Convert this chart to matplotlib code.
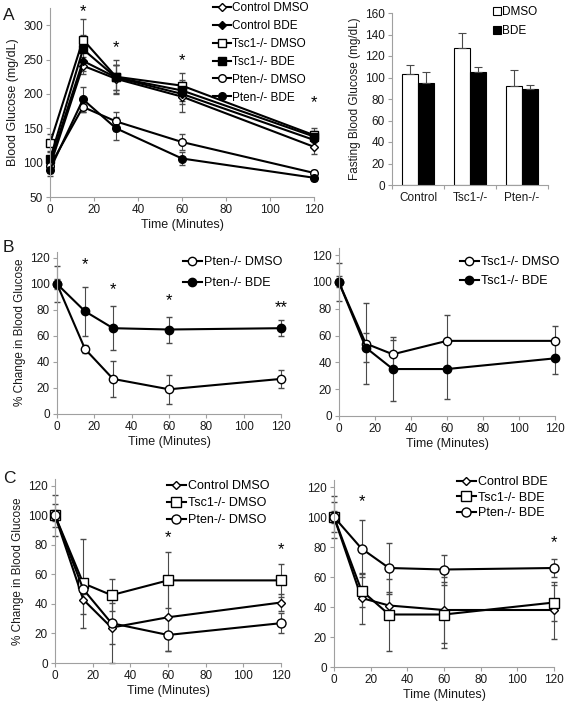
import matplotlib
matplotlib.use('Agg')
import matplotlib.pyplot as plt
import numpy as np

plt.rcParams['font.family'] = ['Liberation Sans', 'DejaVu Sans']

# ---- data ----
time = [0, 15, 30, 60, 120]

# panel A: blood glucose (mg/dL)
ctrl_dmso_a = [95, 241, 222, 196, 123]
ctrl_dmso_a_err = [10, 12, 20, 22, 11]
ctrl_bde_a = [100, 248, 224, 200, 133]
ctrl_bde_a_err = [10, 15, 18, 15, 10]
tsc_dmso_a = [128, 279, 225, 212, 140]
tsc_dmso_a_err = [13, 30, 25, 18, 10]
tsc_bde_a = [105, 265, 224, 205, 138]
tsc_bde_a_err = [12, 20, 18, 15, 8]
pten_dmso_a = [95, 181, 160, 130, 85]
pten_dmso_a_err = [8, 8, 14, 12, 5]
pten_bde_a = [90, 192, 150, 106, 78]
pten_bde_a_err = [10, 18, 17, 10, 5]
stars_a_x = [15, 30, 60, 120]
stars_a_y = [320, 268, 249, 187]

# fasting glucose bars
groups = ['Control', 'Tsc1-/-', 'Pten-/-']
fast_dmso = [103, 127, 92]
fast_dmso_err = [9, 14, 15]
fast_bde = [95, 105, 89]
fast_bde_err = [10, 5, 4]

# panel B / C: % change
pten_dmso = [100, 50, 27, 19, 27]
pten_dmso_err = [4, 3, 14, 11, 7]
pten_bde = [100, 79, 66, 65, 66]
pten_bde_err = [14, 19, 17, 10, 6]
tsc_dmso = [100, 54, 46, 56, 56]
tsc_dmso_err = [14, 30, 11, 19, 11]
tsc_bde = [100, 51, 35, 35, 43]
tsc_bde_err = [4, 11, 24, 22, 12]
ctrl_dmso = [100, 43, 24, 31, 41]
ctrl_dmso_err = [8, 10, 24, 23, 6]
ctrl_bde = [100, 46, 41, 38, 38]
ctrl_bde_err = [10, 17, 9, 22, 19]

stars_b_x = [15, 30, 60, 120]
stars_b_y = [115, 96, 87, 82]
stars_b_txt = ['*', '*', '*', '**']
stars_cl_x = [60, 120]
stars_cl_y = [85, 77]
stars_cr_x = [15, 120]
stars_cr_y = [110, 83]

SPINE = '#a0a0a0'
TXT = '#1a1a1a'
FS = 8.5


def style_axis(ax):
    for s in ['top', 'right']:
        ax.spines[s].set_visible(False)
    for s in ['left', 'bottom']:
        ax.spines[s].set_color(SPINE)
        ax.spines[s].set_linewidth(0.8)
    ax.tick_params(direction='out', length=3, width=0.8, color=SPINE,
                   labelsize=FS, labelcolor=TXT, pad=2)


def series(ax, y, err, marker, face, ms):
    c = ax.errorbar(time, y, yerr=err, color='black', marker=marker,
                    mfc=face, mec='black', mew=1.0, ms=ms, lw=1.5,
                    ecolor='#4a4a4a', elinewidth=0.8, capsize=2.5,
                    capthick=0.8)
    for a in c.get_children():
        a.set_clip_on(False)
    return c.lines[0]


def time_axis(ax, ylim, yticks):
    style_axis(ax)
    ax.set_xlim(0, 120)
    ax.set_xticks(range(0, 121, 20))
    ax.set_ylim(*ylim)
    ax.set_yticks(yticks)
    ax.set_xlabel('Time (Minutes)', fontsize=9, color=TXT, labelpad=2)


def add_legend(ax, handles, labels, x, y, spacing, fs):
    fig = ax.figure
    ax.legend(handles, labels, loc='upper left',
              bbox_to_anchor=(x / 567, 1 - y / 707),
              bbox_transform=fig.transFigure, frameon=False,
              fontsize=fs, handlelength=1.5, handletextpad=0.15,
              labelspacing=spacing, borderpad=0, borderaxespad=0)


fig = plt.figure(figsize=(5.67, 7.07), dpi=100)

# ---- A left ----
ax = fig.add_axes([50 / 567, 1 - 197 / 707, 264 / 567, 189 / 707])
time_axis(ax, (50, 325), range(50, 301, 50))
h = [series(ax, ctrl_dmso_a, ctrl_dmso_a_err, 'D', 'white', 4),
     series(ax, ctrl_bde_a, ctrl_bde_a_err, 'D', 'black', 4),
     series(ax, tsc_dmso_a, tsc_dmso_a_err, 's', 'white', 5.5),
     series(ax, tsc_bde_a, tsc_bde_a_err, 's', 'black', 5.5),
     series(ax, pten_dmso_a, pten_dmso_a_err, 'o', 'white', 5.5),
     series(ax, pten_bde_a, pten_bde_a_err, 'o', 'black', 5.5)]
ax.set_ylabel('Blood Glucose (mg/dL)', fontsize=9, color=TXT, labelpad=3)
for sx, sy in zip(stars_a_x, stars_a_y):
    ax.text(sx, sy, '*', fontsize=12, ha='center', va='center', clip_on=False)
add_legend(ax, h, ['Control DMSO', 'Control BDE', 'Tsc1-/- DMSO',
                   'Tsc1-/- BDE', 'Pten-/- DMSO', 'Pten-/- BDE'],
           213, 2, 0.5, 8.5)
fig.text(3 / 567, 1 - 20 / 707, 'A', fontsize=12.5, color=TXT)

# ---- A right (bars) ----
ax = fig.add_axes([392 / 567, 1 - 185 / 707, 156 / 567, 172 / 707])
style_axis(ax)
xi = np.arange(len(groups))
ax.bar(xi - 0.15, fast_dmso, 0.3, color='white', edgecolor='black', lw=0.8,
       yerr=[[0] * 3, fast_dmso_err], ecolor='#4a4a4a',
       error_kw=dict(elinewidth=0.8, capsize=2.8, capthick=0.8), label='DMSO')
ax.bar(xi + 0.15, fast_bde, 0.3, color='black', edgecolor='black', lw=0.8,
       yerr=[[0] * 3, fast_bde_err], ecolor='#4a4a4a',
       error_kw=dict(elinewidth=0.8, capsize=2.8, capthick=0.8), label='BDE')
ax.set_xlim(-0.5, 2.5)
ax.set_ylim(0, 160)
ax.set_yticks(range(0, 161, 20))
ax.set_xticks([-0.5, 0.5, 1.5, 2.5])
ax.set_xticklabels([])
ax.set_xticks(xi, minor=True)
ax.set_xticklabels(groups, minor=True)
ax.tick_params(axis='x', which='minor', length=0, labelsize=FS, labelcolor=TXT, pad=5)
ax.set_ylabel('Fasting Blood Glucose (mg/dL)', fontsize=8.5, color=TXT, labelpad=3)
ax.legend(loc='upper left', bbox_to_anchor=(493 / 567, 1 - 6 / 707),
          bbox_transform=fig.transFigure, frameon=False, fontsize=8.5,
          handlelength=0.7, handleheight=0.7, handletextpad=0.1,
          labelspacing=0.6, borderpad=0, borderaxespad=0)

# ---- B left ----
ax = fig.add_axes([57 / 567, 1 - 414 / 707, 224 / 567, 162.5 / 707])
time_axis(ax, (0, 125), range(0, 121, 20))
h = [series(ax, pten_dmso, pten_dmso_err, 'o', 'white', 6),
     series(ax, pten_bde, pten_bde_err, 'o', 'black', 6)]
ax.set_ylabel('% Change in Blood Glucose', fontsize=8.5, color=TXT, labelpad=3)
for sx, sy, st in zip(stars_b_x, stars_b_y, stars_b_txt):
    ax.text(sx, sy, st, fontsize=12, ha='center', va='center', clip_on=False)
add_legend(ax, h, ['Pten-/- DMSO', 'Pten-/- BDE'], 183, 256, 0.75, 9)
fig.text(3 / 567, 1 - 252 / 707, 'B', fontsize=12.5, color=TXT)

# ---- B right ----
ax = fig.add_axes([338.7 / 567, 1 - 416 / 707, 216.5 / 567, 167.7 / 707])
time_axis(ax, (0, 125), range(0, 121, 20))
h = [series(ax, tsc_dmso, tsc_dmso_err, 'o', 'white', 6),
     series(ax, tsc_bde, tsc_bde_err, 'o', 'black', 6)]
add_legend(ax, h, ['Tsc1-/- DMSO', 'Tsc1-/- BDE'], 460, 256, 0.55, 9)

# ---- C left ----
ax = fig.add_axes([55 / 567, 1 - 663 / 707, 226 / 567, 184.4 / 707])
time_axis(ax, (0, 125), range(0, 121, 20))
h = [series(ax, ctrl_dmso, ctrl_dmso_err, 'D', 'white', 4.5),
     series(ax, tsc_dmso, tsc_dmso_err, 's', 'white', 6.5),
     series(ax, pten_dmso, pten_dmso_err, 'o', 'white', 6.5)]
ax.set_ylabel('% Change in Blood Glucose', fontsize=8.5, color=TXT, labelpad=3)
for sx, sy in zip(stars_cl_x, stars_cl_y):
    ax.text(sx, sy, '*', fontsize=12, ha='center', va='center', clip_on=False)
add_legend(ax, h, ['Control DMSO', 'Tsc1-/- DMSO', 'Pten-/- DMSO'],
           167, 480, 0.4, 9)
fig.text(3 / 567, 1 - 483 / 707, 'C', fontsize=12.5, color=TXT)

# ---- C right ----
ax = fig.add_axes([334 / 567, 1 - 667 / 707, 220 / 567, 187.5 / 707])
time_axis(ax, (0, 125), range(0, 121, 20))
h = [series(ax, ctrl_bde, ctrl_bde_err, 'D', 'white', 4.5),
     series(ax, tsc_bde, tsc_bde_err, 's', 'white', 6.5),
     series(ax, pten_bde, pten_bde_err, 'o', 'white', 6.5)]
for sx, sy in zip(stars_cr_x, stars_cr_y):
    ax.text(sx, sy, '*', fontsize=12, ha='center', va='center', clip_on=False)
add_legend(ax, h, ['Control BDE', 'Tsc1-/- BDE', 'Pten-/- BDE'],
           457, 476, 0.3, 9)

fig.savefig('out.png', dpi=100)
